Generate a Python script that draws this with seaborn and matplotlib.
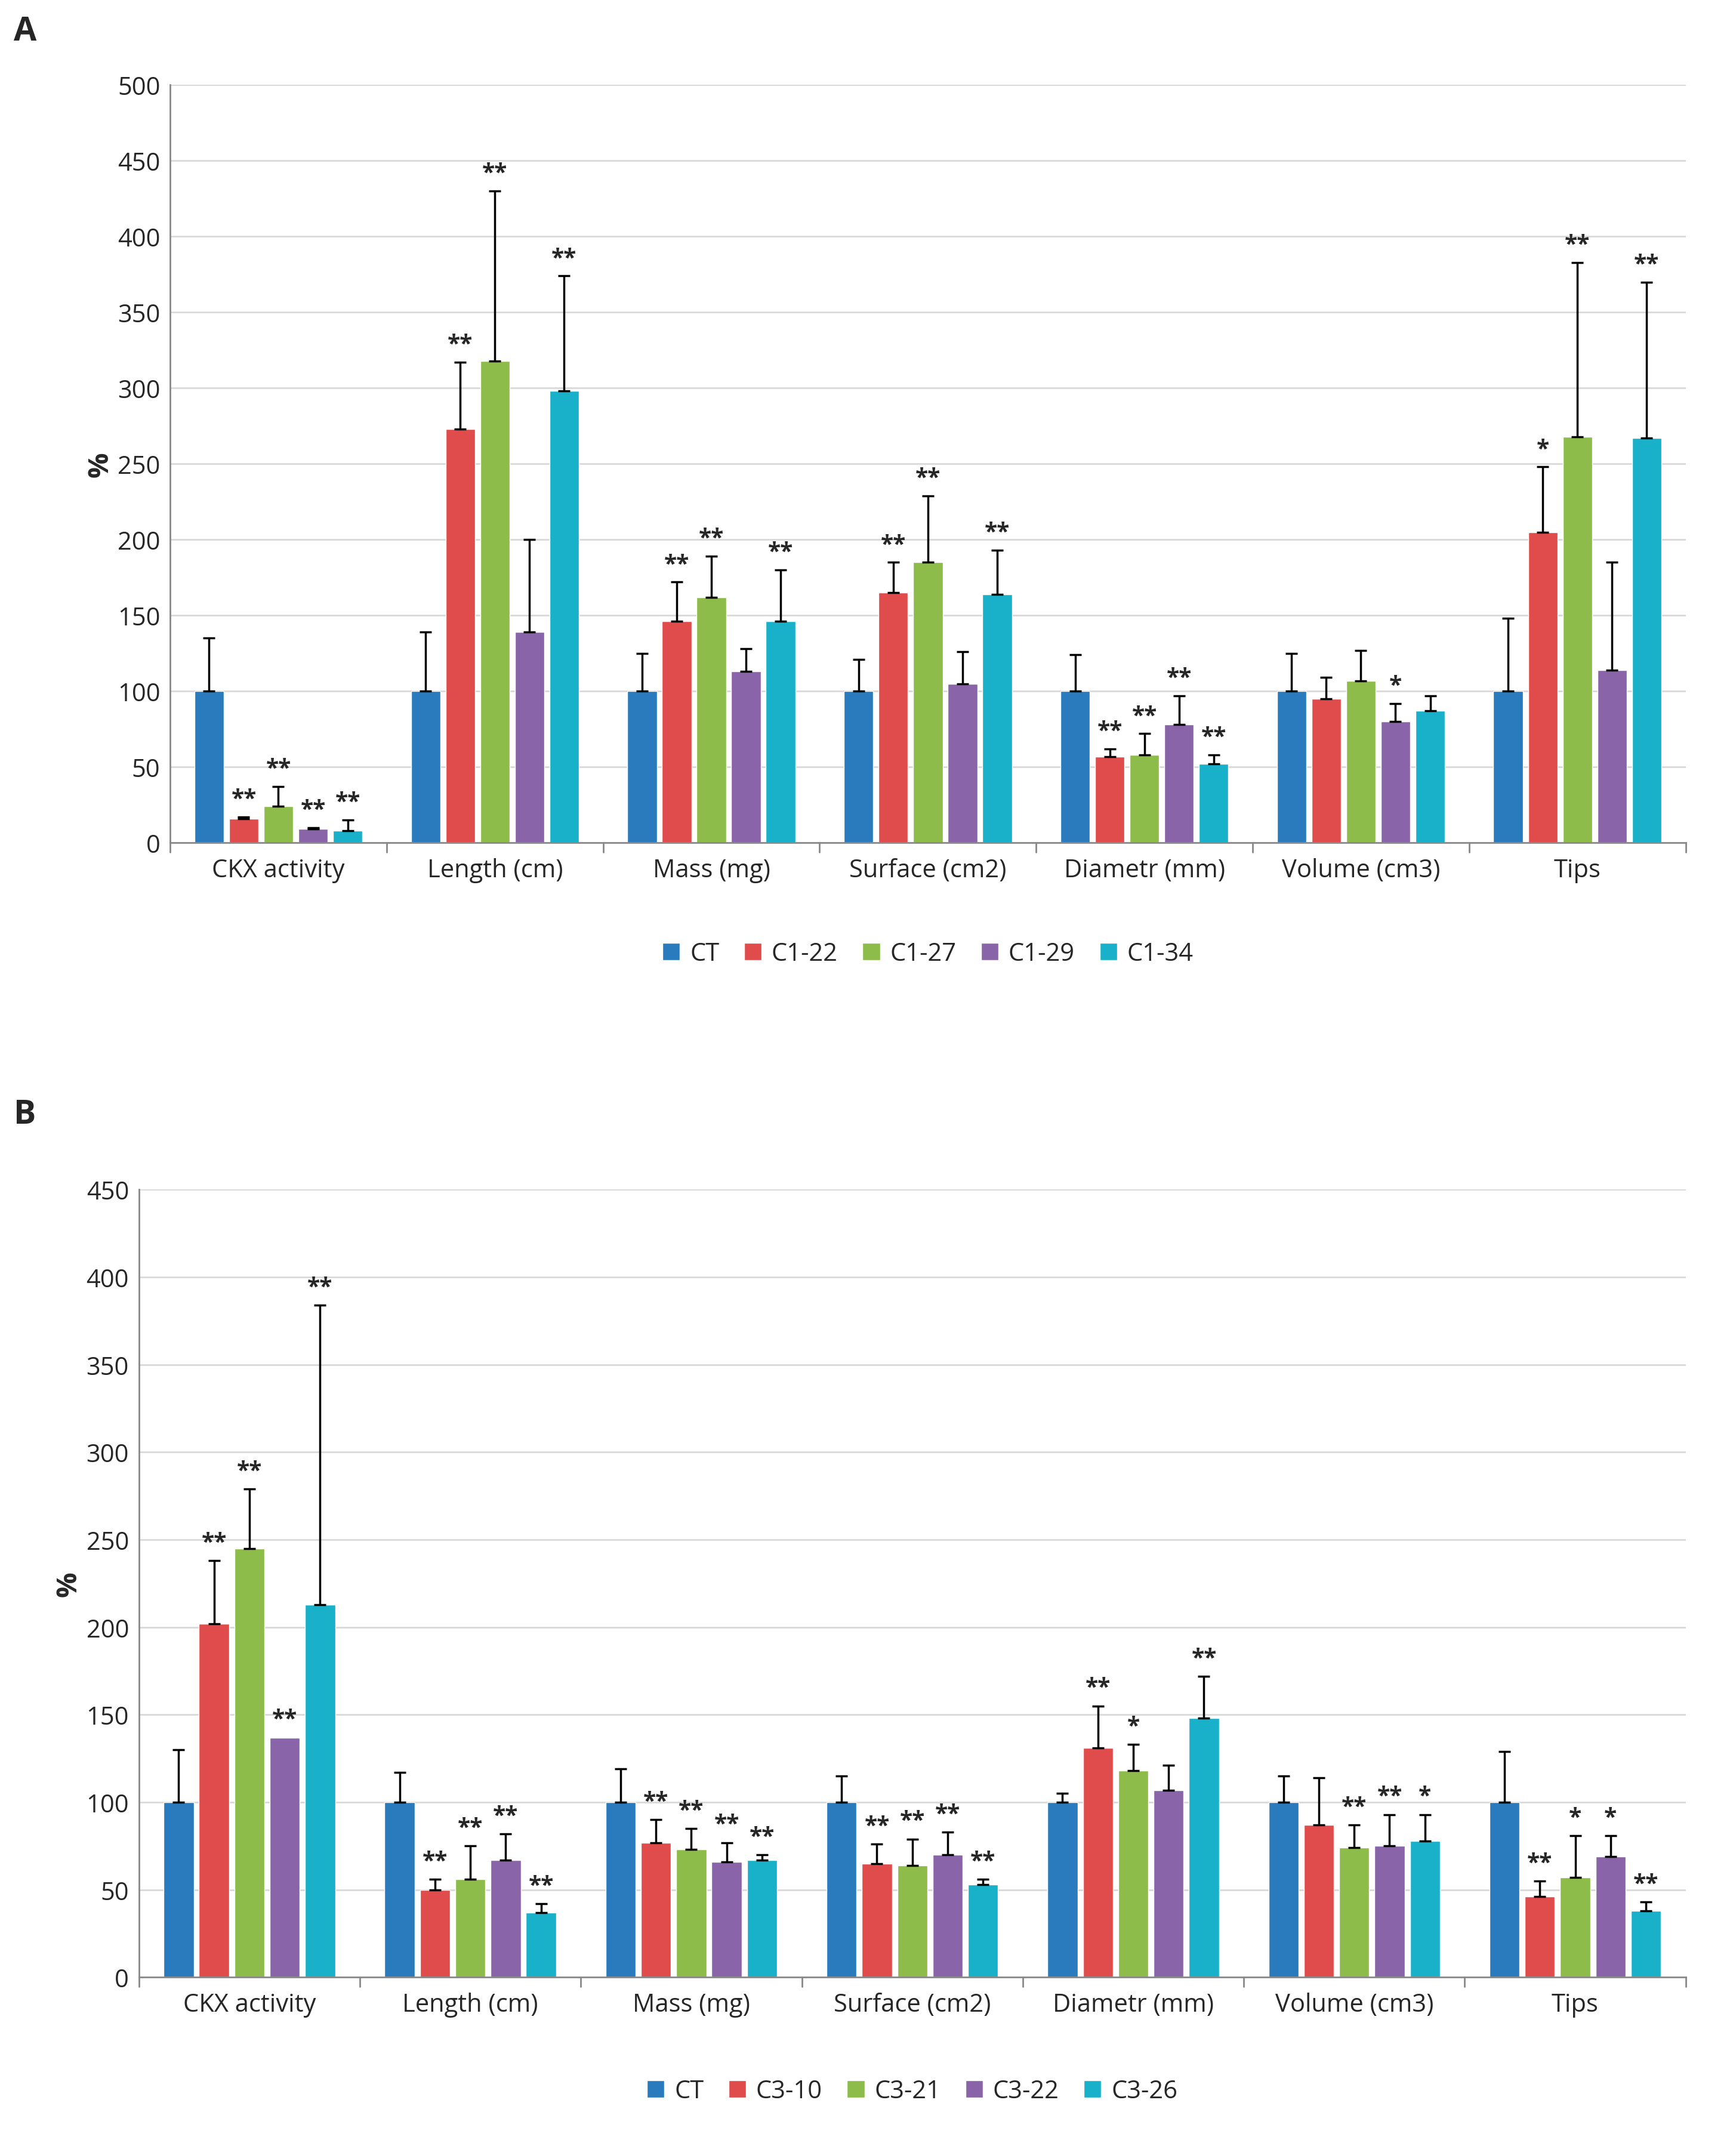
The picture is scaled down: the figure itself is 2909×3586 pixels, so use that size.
import numpy as np
import pandas as pd
import seaborn as sns
import matplotlib.pyplot as plt

categories = ["CKX activity", "Length (cm)", "Mass (mg)", "Surface (cm2)",
              "Diametr (mm)", "Volume (cm3)", "Tips"]
colors = ["#2a7bbd", "#e04c4b", "#8dbc4a", "#8a64a8", "#18b1c9"]

lines_a = ["CT", "C1-22", "C1-27", "C1-29", "C1-34"]
means_a = [
    [100, 16, 24, 9, 8],
    [100, 273, 318, 139, 298],
    [100, 146, 162, 113, 146],
    [100, 165, 185, 105, 164],
    [100, 57, 58, 78, 52],
    [100, 95, 107, 80, 87],
    [100, 205, 268, 114, 267],
]
tops_a = [
    [135, 17, 37, 10, 15],
    [139, 317, 430, 200, 374],
    [125, 172, 189, 128, 180],
    [121, 185, 229, 126, 193],
    [124, 62, 72, 97, 58],
    [125, 109, 127, 92, 97],
    [148, 248, 383, 185, 370],
]
stars_a = [
    ["", "**", "**", "**", "**"],
    ["", "**", "**", "", "**"],
    ["", "**", "**", "", "**"],
    ["", "**", "**", "", "**"],
    ["", "**", "**", "**", "**"],
    ["", "", "", "*", ""],
    ["", "*", "**", "", "**"],
]

lines_b = ["CT", "C3-10", "C3-21", "C3-22", "C3-26"]
means_b = [
    [100, 202, 245, 137, 213],
    [100, 50, 56, 67, 37],
    [100, 77, 73, 66, 67],
    [100, 65, 64, 70, 53],
    [100, 131, 118, 107, 148],
    [100, 87, 74, 75, 78],
    [100, 46, 57, 69, 38],
]
tops_b = [
    [130, 238, 279, 137, 384],
    [117, 56, 75, 82, 42],
    [119, 90, 85, 77, 70],
    [115, 76, 79, 83, 56],
    [105, 155, 133, 121, 172],
    [115, 114, 87, 93, 93],
    [129, 55, 81, 81, 43],
]
stars_b = [
    ["", "**", "**", "**", "**"],
    ["", "**", "**", "**", "**"],
    ["", "**", "**", "**", "**"],
    ["", "**", "**", "**", "**"],
    ["", "**", "*", "", "**"],
    ["", "", "**", "**", "*"],
    ["", "**", "*", "*", "**"],
]


def panel(ax, lines, means, tops, stars, ymax):
    rows = []
    for ci, cat in enumerate(categories):
        for li, ln in enumerate(lines):
            rows.append({"cat": cat, "line": ln, "val": means[ci][li],
                         "top": tops[ci][li], "star": stars[ci][li]})
    df = pd.DataFrame(rows)
    sns.barplot(data=df, x="cat", y="val", hue="line", hue_order=lines,
                palette=colors, width=0.8, gap=0.15, errorbar=None, ax=ax,
                saturation=1, zorder=2)
    bar_containers = list(ax.containers)
    for li, cont in enumerate(bar_containers):
        sub = df[df["line"] == lines[li]].reset_index(drop=True)
        for ci, bar in enumerate(cont):
            x = bar.get_x() + bar.get_width() / 2
            h = bar.get_height()
            top = sub.loc[ci, "top"]
            if top > h:
                ax.errorbar(x, h, yerr=[[0], [top - h]], fmt="none", ecolor="black",
                            elinewidth=2.5, capsize=7, capthick=2.5, zorder=3)
            s = sub.loc[ci, "star"]
            if s:
                ax.text(x, top + ymax * 0.008, s, ha="center", va="bottom",
                        fontsize=28, fontweight="bold")
    ax.set_ylim(0, ymax)
    ax.set_yticks(np.arange(0, ymax + 1, 50))
    ax.yaxis.grid(True, color="#d9d9d9", linewidth=2, zorder=0)
    ax.set_axisbelow(True)
    ax.set_xlabel("")
    ax.set_ylabel("%", fontsize=34, fontweight="bold")
    ax.tick_params(axis="both", labelsize=30, length=0)
    ax.tick_params(axis="y", pad=12)
    ax.tick_params(axis="x", pad=18)
    for sp in ["top", "right"]:
        ax.spines[sp].set_visible(False)
    for sp in ["left", "bottom"]:
        ax.spines[sp].set_color("#888888")
        ax.spines[sp].set_linewidth(2)
    for k in range(len(categories) + 1):
        ax.plot([k - 0.5, k - 0.5], [0, -ymax * 0.012], color="#888888",
                lw=2, clip_on=False)
    ax.set_xlim(-0.5, len(categories) - 0.5)
    handles, labels = ax.get_legend_handles_labels()
    ax.legend(handles[:len(lines)], labels[:len(lines)], loc="upper center",
              bbox_to_anchor=(0.5, -0.1), ncol=5, frameon=False, fontsize=30,
              handlelength=0.7, handleheight=0.7, columnspacing=1.0,
              handletextpad=0.4)


sns.set_style("white")
plt.rcParams["font.family"] = ["Open Sans", "DejaVu Sans"]
fig = plt.figure(figsize=(29.09, 35.87), dpi=100)
ax_a = fig.add_axes([0.098, 0.606, 0.873, 0.354])
ax_b = fig.add_axes([0.080, 0.076, 0.891, 0.368])
panel(ax_a, lines_a, means_a, tops_a, stars_a, 500)
panel(ax_b, lines_b, means_b, tops_b, stars_b, 450)
fig.text(0.008, 0.985, "A", fontsize=40, fontweight="bold", va="center")
fig.text(0.008, 0.479, "B", fontsize=40, fontweight="bold", va="center")
fig.savefig("out.png", dpi=100, facecolor="white")
